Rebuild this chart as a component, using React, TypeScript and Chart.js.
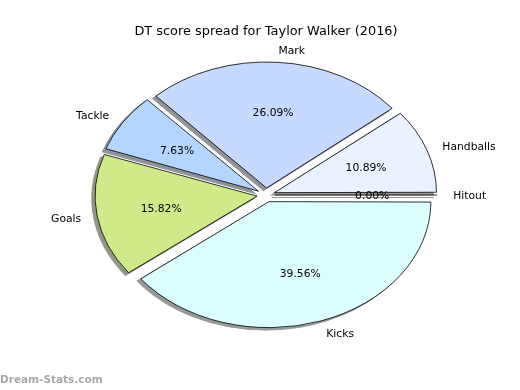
import React, { useEffect, useRef } from 'react';
import { Chart, registerables } from 'chart.js';

Chart.register(...registerables);

const TITLE = 'DT score spread for Taylor Walker (2016)';
const WATERMARK = 'Dream-Stats.com';
// listed clockwise from 3 o'clock (matplotlib draws them counter-clockwise in reverse order)
const categories = ['Hitout', 'Kicks', 'Goals', 'Tackle', 'Mark', 'Handballs'];
const shares = [0.0, 39.56, 15.82, 7.63, 26.09, 10.89];
const colors = ['#dde6ff', '#dbffff', '#d0ea8a', '#b3d5ff', '#c6d9ff', '#eaf1ff'];

const FONT = '"DejaVu Sans", "Liberation Sans", sans-serif';
const R = 162; // horizontal radius (px)
const K = 126 / 162; // vertical squash of the ellipse
const EXPLODE = 9; // explode distance (px, in circle space)
const SHX = -3.2;
const SHY = 2.5;
const TEXT_DY = 1;

function shade(hex: string): string {
  const n = parseInt(hex.slice(1), 16);
  const r = (n >> 16) & 255, g = (n >> 8) & 255, b = n & 255;
  const f = (v: number) => Math.round(255 * 0.45 + v * 0.15);
  return `rgb(${f(r)},${f(g)},${f(b)})`;
}

const ellipsePlugin = {
  id: 'ellipsePie',
  beforeDatasetsDraw(chart: any) {
    const ctx = chart.ctx as CanvasRenderingContext2D;
    const meta = chart.getDatasetMeta(0);
    const arcs = meta.data as any[];
    if (!arcs.length) return;
    const cx = arcs[0].x, cy = arcs[0].y;
    // compensate Chart.js' radius growth for narrow offset arcs
    arcs.forEach((a) => {
      const fix = 1 - Math.sin(Math.min(Math.PI, a.circumference || 0));
      a.outerRadius = R - EXPLODE * fix;
    });
    // shadows
    ctx.save();
    ctx.translate(SHX, SHY);
    ctx.translate(cx, cy);
    ctx.scale(1, K);
    ctx.translate(-cx, -cy);
    arcs.forEach((a, i) => {
      const mid = (a.startAngle + a.endAngle) / 2;
      const ox = cx + Math.cos(mid) * EXPLODE;
      const oy = cy + Math.sin(mid) * EXPLODE;
      ctx.beginPath();
      ctx.moveTo(ox, oy);
      ctx.arc(ox, oy, R, a.startAngle, a.endAngle);
      ctx.closePath();
      const c = shade(colors[i]);
      ctx.fillStyle = c;
      ctx.strokeStyle = c;
      ctx.lineWidth = 1.2;
      ctx.fill();
      ctx.stroke();
    });
    ctx.restore();
    // elliptical transform for the slices
    ctx.save();
    ctx.translate(cx, cy);
    ctx.scale(1, K);
    ctx.translate(-cx, -cy);
  },
  afterDatasetsDraw(chart: any) {
    const ctx = chart.ctx as CanvasRenderingContext2D;
    const meta = chart.getDatasetMeta(0);
    const arcs = meta.data as any[];
    if (!arcs.length) return;
    const cx = arcs[0].x, cy = arcs[0].y;
    // zero-width slices drawn as a line, as matplotlib does
    arcs.forEach((a) => {
      if (a.circumference === 0) {
        const mid = a.startAngle;
        const ox = cx + Math.cos(mid) * EXPLODE;
        const oy = cy + Math.sin(mid) * EXPLODE;
        ctx.beginPath();
        ctx.moveTo(ox, oy);
        ctx.lineTo(ox + Math.cos(mid) * R, oy + Math.sin(mid) * R);
        ctx.strokeStyle = '#000';
        ctx.lineWidth = 0.9;
        ctx.stroke();
      }
    });
    ctx.restore();

    const total = shares.reduce((s, v) => s + v, 0);
    ctx.save();
    ctx.font = `10.75px ${FONT}`;
    ctx.fillStyle = '#000';
    ctx.textBaseline = 'middle';
    arcs.forEach((a, i) => {
      const mid = (a.startAngle + a.endAngle) / 2;
      const dx = Math.cos(mid), dy = Math.sin(mid) * K;
      const lr = EXPLODE + 1.1 * R;
      const lx = cx + dx * lr, ly = cy + dy * lr + TEXT_DY;
      ctx.textAlign = dx >= -1e-9 ? 'left' : 'right';
      ctx.fillText(categories[i], lx, ly);
      const pr = EXPLODE + 0.6 * R;
      ctx.textAlign = 'center';
      ctx.fillText(((shares[i] / total) * 100).toFixed(2) + '%', cx + dx * pr, cy + dy * pr + TEXT_DY);
    });
    ctx.restore();
  },
  afterDraw(chart: any) {
    const ctx = chart.ctx as CanvasRenderingContext2D;
    ctx.save();
    ctx.font = `bold 10.5px ${FONT}`;
    ctx.fillStyle = '#a8a8a8';
    ctx.textAlign = 'left';
    ctx.textBaseline = 'middle';
    ctx.fillText(WATERMARK, 0, 380);
    ctx.restore();
  },
};

export default function App() {
  const ref = useRef<HTMLCanvasElement>(null);
  useEffect(() => {
    document.body.style.margin = '0';
    const canvas = ref.current!;
    const chart = new Chart(canvas, {
      type: 'pie',
      data: {
        labels: categories,
        datasets: [
          {
            data: shares,
            backgroundColor: colors,
            borderColor: '#000',
            borderWidth: 0.9,
            borderJoinStyle: 'miter',
            offset: EXPLODE * 4,
            hoverOffset: EXPLODE * 4,
            clip: false,
          } as any,
        ],
      },
      options: {
        responsive: false,
        animation: false,
        devicePixelRatio: 1,
        events: [],
        rotation: 90,
        radius: R,
        layout: { padding: { left: 12, right: 0, top: 0, bottom: 48.98 } },
        plugins: {
          legend: { display: false },
          tooltip: { enabled: false },
          title: {
            display: true,
            text: TITLE,
            color: '#000',
            font: { family: FONT, size: 12.9, weight: 'normal', lineHeight: 1.2 },
            padding: { top: 23.5, bottom: 10 },
          },
        },
      } as any,
      plugins: [ellipsePlugin],
    });
    return () => chart.destroy();
  }, []);
  return <canvas ref={ref} width={520} height={390} style={{ display: 'block' }} />;
}
